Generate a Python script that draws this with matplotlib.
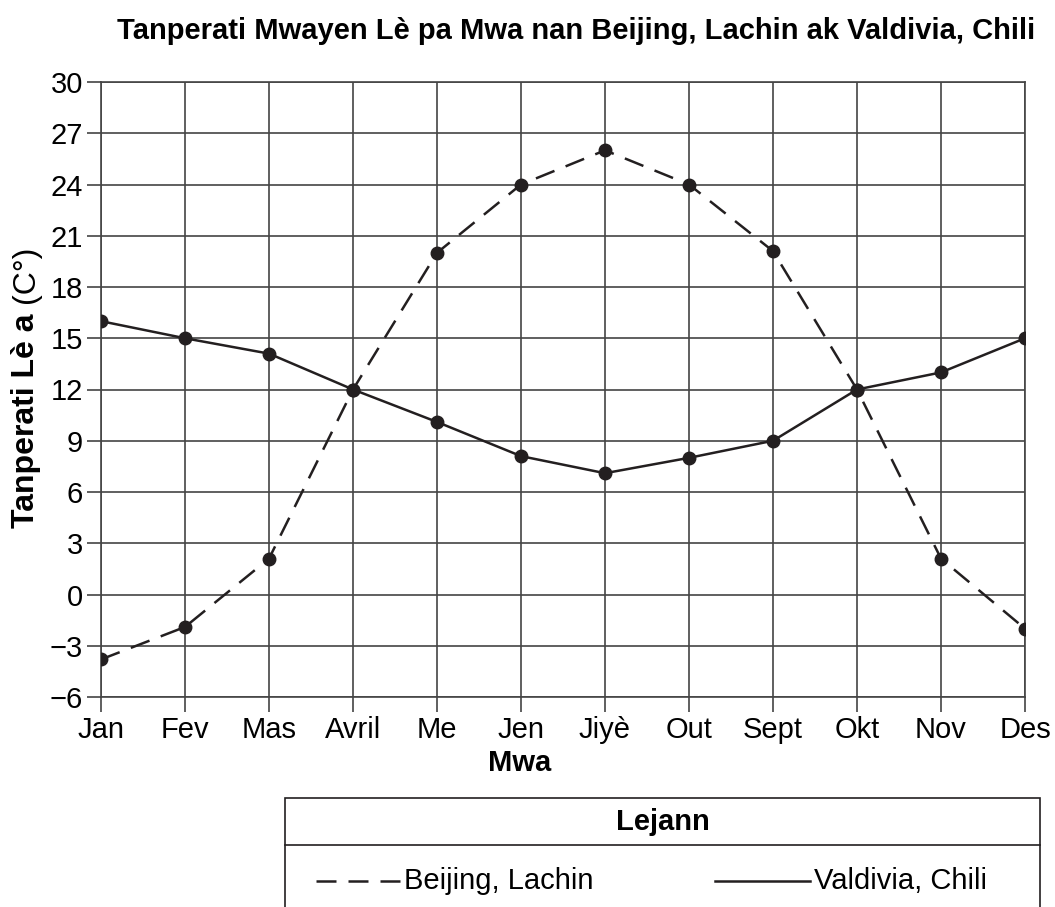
import matplotlib
matplotlib.use("Agg")
from matplotlib import pyplot as plt
from matplotlib.patches import Rectangle
from matplotlib.lines import Line2D

plt.rcParams['font.family'] = ['Liberation Sans', 'DejaVu Sans']

mwa = ["Jan", "Fev", "Mas", "Avril", "Me", "Jen", "Jiyè", "Out", "Sept", "Okt", "Nov", "Des"]
beijing = [-3.8, -1.9, 2.1, 12, 20, 24, 26, 24, 20.1, 12, 2.1, -2.0]
valdivia = [16, 15, 14.1, 12, 10.1, 8.1, 7.1, 8, 9, 12, 13, 15]
y_ticks = list(range(-6, 31, 3))

ink = "#231f20"
grid_c = "#444444"
W, H = 1055, 907

fig = plt.figure(figsize=(10.55, 9.07), dpi=100)
ax = fig.add_axes([101 / W, 1 - 697 / H, (1025 - 101) / W, (697 - 82) / H])

x = list(range(len(mwa)))
ax.plot(x, beijing, color=ink, lw=1.8, dashes=(8, 4.8), marker="o", ms=9, zorder=3)
ax.plot(x, valdivia, color=ink, lw=1.8, marker="o", ms=9, zorder=3)

ax.set_xlim(0, 11)
ax.set_ylim(-6, 30)
ax.set_xticks(x)
ax.set_xticklabels(mwa, fontsize=21)
ax.set_yticks(y_ticks)
ax.set_yticklabels([str(v).replace("-", "\u2212") for v in y_ticks], fontsize=21)
ax.tick_params(axis="x", length=11, width=1.2, color=grid_c, pad=3)
ax.tick_params(axis="y", length=10, width=1.2, color=grid_c, pad=3)
ax.grid(True, color=grid_c, lw=1.2)
for s in ax.spines.values():
    s.set_color(grid_c)
    s.set_linewidth(1.2)
ax.set_axisbelow(True)

fig.text(520 / W, 1 - 763 / H, "Mwa", ha="center", va="center", fontsize=21, fontweight="bold")

fig.text(576 / W, 1 - 31 / H, "Tanperati Mwayen Lè pa Mwa nan Beijing, Lachin ak Valdivia, Chili",
         ha="center", va="center", fontsize=21, fontweight="bold")

# y label: bold part + normal unit
fig.text(26 / W, 1 - 528 / H, "Tanperati Lè a", rotation=90, ha="center", va="bottom",
         fontsize=23, fontweight="bold")
fig.text(26 / W, 1 - 303 / H, "(C°)", rotation=90, ha="center", va="bottom", fontsize=23)

# legend box
x0, x1 = 285 / W, 1040 / W
ytop = 1 - 798 / H
ymid = 1 - 845 / H
fig.add_artist(Rectangle((x0, -0.05), x1 - x0, ytop + 0.05, transform=fig.transFigure,
                         fill=False, ec=ink, lw=1.2))
fig.add_artist(Line2D([x0, x1], [ymid, ymid], transform=fig.transFigure, color=ink, lw=1.2))
fig.text((x0 + x1) / 2, 1 - 822 / H, "Lejann", ha="center", va="center",
         fontsize=21, fontweight="bold")
yrow = 1 - 881 / H
fig.add_artist(Line2D([316 / W, 400 / W], [yrow, yrow], transform=fig.transFigure,
                      color=ink, lw=1.8, dashes=(8, 4.8)))
fig.text(404 / W, yrow, "Beijing, Lachin", ha="left", va="center", fontsize=21)
fig.add_artist(Line2D([715 / W, 810 / W], [yrow, yrow], transform=fig.transFigure,
                      color=ink, lw=1.8))
fig.text(814 / W, yrow, "Valdivia, Chili", ha="left", va="center", fontsize=21)

fig.savefig("out.png", dpi=100)
